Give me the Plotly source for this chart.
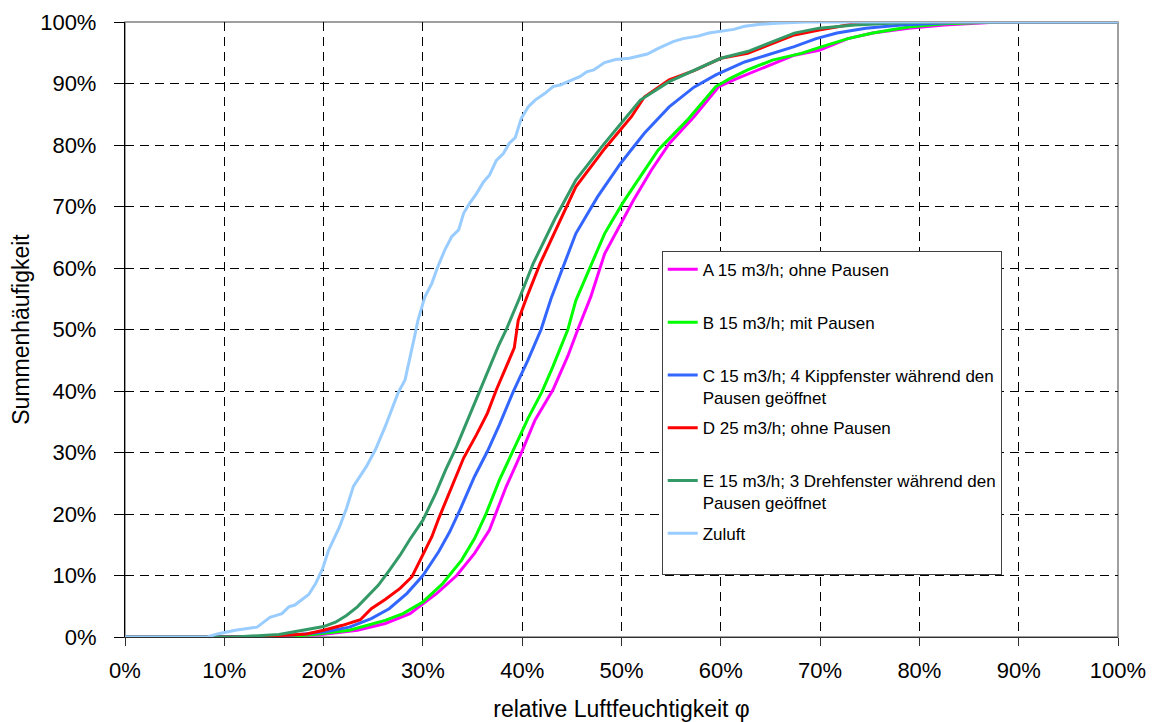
import plotly.graph_objects as go

# ---- data (percent values) ----
a_x = [0, 14, 17, 19.8, 23.4, 26.2, 28.7, 30, 31.4, 33.4, 35.2, 36.7, 37.4, 38.4, 39.9, 41.3, 43.1, 44.6, 45.6,
       46.9, 48.3, 49.8, 51.2, 53, 54.8, 57.3, 59.8, 61.6, 64.5, 67.4, 69.9, 72.8, 75.3, 78.9, 82.5, 85.4, 88, 100]
a_y = [0, 0, 0.1, 0.4, 1.1, 2.2, 3.8, 5.4, 7.1, 10, 13.6, 17.4, 20.4, 24.5, 29.9, 35.3, 40.2, 45.7, 50,
       55.3, 62.3, 66.7, 71, 75.9, 80.2, 84.6, 89.5, 90.8, 92.7, 94.6, 95.4, 97.3, 98.2, 99, 99.5, 99.8, 100, 100]

b_x = [0, 14.4, 17, 19, 22.6, 26.2, 28, 30, 32, 33.9, 35.2, 36.3, 37.7, 39.2, 40.6, 42, 43.1, 44.6, 45.4,
       48.3, 50.1, 51.2, 53.7, 56.6, 59.5, 60.9, 62.7, 65.2, 68.1, 70.2, 72.8, 75.3, 78.9, 82.5, 86.1, 88, 100]
b_y = [0, 0, 0.1, 0.4, 1.1, 2.7, 3.8, 5.7, 8.7, 12.5, 16, 19.8, 25.5, 30.7, 35.6, 39.9, 44, 50, 54.7,
       65.6, 70.5, 73.2, 79.2, 84, 89.5, 90.8, 92.2, 93.8, 94.9, 96, 97.3, 98.2, 99.2, 99.7, 99.9, 100, 100]

c_x = [0, 12.9, 15, 17.6, 20, 22.6, 24.8, 26.6, 28.4, 30, 31.6, 32.7, 33.8, 35.2, 36.5, 37.7, 39.1, 40.6, 41.9,
       42.9, 44.1, 45.4, 47.6, 49.9, 52.3, 54.8, 57.3, 59.5, 62.4, 64.5, 67.4, 69.6, 71.7, 74.6, 78.2, 81.8, 85, 100]
c_y = [0, 0, 0.1, 0.4, 0.8, 1.6, 3, 4.6, 7.1, 10, 13.9, 17.1, 20.9, 26.1, 30.2, 34.5, 39.9, 45.1, 50,
       55, 60.2, 65.6, 71.6, 77, 81.9, 86.2, 89.4, 91.4, 93.5, 94.6, 96, 97.3, 98.2, 99, 99.5, 99.8, 100, 100]

d_x = [0, 12.6, 16.2, 18.3, 20, 21.9, 23.7, 24.8, 26.2, 27.7, 28.9, 30, 30.9, 31.6, 32.9, 34.1, 35.4, 36.5, 37.4,
       38.4, 39.2, 39.6, 40.4, 41.8, 43.1, 45.4, 48.3, 51, 52.3, 54.8, 57.3, 60, 62.7, 64.9, 67.4, 69.9, 73.5, 75.5, 100]
d_y = [0, 0, 0.3, 0.5, 1.1, 1.9, 2.8, 4.6, 6.1, 7.9, 9.8, 13.3, 16.3, 19.3, 24.5, 29.1, 32.9, 36.4, 40.2,
       44, 47, 51.5, 55, 60.7, 65.3, 73.2, 79.4, 84.6, 87.8, 90.6, 92.1, 94.1, 94.9, 96.3, 97.9, 98.7, 99.7, 100, 100]

e_x = [0, 11, 15.5, 18, 20, 21.2, 22.3, 23.4, 24.4, 25.5, 26.6, 27.7, 28.7, 30, 31.3, 32.3, 33.4, 34.5, 35.6,
       36.7, 37.6, 38.4, 39.7, 41.1, 43.3, 45.4, 48, 49.8, 51.9, 54.8, 57.3, 60, 62.7, 65.2, 67.4, 69.9, 73.5,
       77.1, 80.7, 82, 100]
e_y = [0, 0, 0.4, 1.1, 1.7, 2.4, 3.5, 4.9, 6.5, 8.4, 10.8, 13.3, 15.9, 19, 23.4, 27.2, 31, 35.3, 39.7,
       43.8, 47.3, 50, 55, 60.7, 68, 74.3, 79.7, 83.2, 87.3, 90.3, 92.1, 94.1, 95.2, 96.8, 98.2, 99, 99.5,
       99.8, 99.9, 100, 100]

z_x = [0, 8.3, 9.3, 11.1, 13.3, 14.6, 15.8, 16.5, 17.1, 18.5, 19.2, 19.9, 20.5, 21.6, 22.3, 23, 24.3, 25.2,
       26.2, 26.9, 27.5, 28.2, 28.6, 29.1, 29.5, 30.2, 30.9, 31.5, 32.2, 32.9, 33.6, 34.1, 34.7, 35.4, 36.1,
       36.7, 37.4, 38.1, 38.7, 39.3, 39.9, 40.6, 41.3, 42.3, 43.1, 43.9, 44.9, 45.8, 46.5, 47.2, 48.3, 49.4,
       50.8, 52.6, 53.7, 55.2, 56.2, 57.7, 58.8, 60.2, 61.3, 62.4, 63.8, 65.6, 67, 68.5, 100]
z_y = [0, 0, 0.5, 1.1, 1.6, 3.2, 3.8, 4.9, 5.2, 6.9, 8.7, 11.1, 14.1, 17.9, 20.9, 24.5, 27.7, 30.4,
       34.2, 37, 39.7, 41.8, 44.6, 48.4, 51.5, 55.3, 57.5, 60.2, 62.9, 65.1, 66.2, 68.9, 70.5, 72.1, 74,
       75.1, 77.5, 78.6, 80.3, 81.2, 84.3, 86.2, 87.3, 88.4, 89.5, 89.8, 90.5, 91.1, 91.9, 92.2, 93.4, 93.9,
       94.1, 94.8, 95.7, 96.8, 97.3, 97.7, 98.2, 98.6, 98.8, 99.3, 99.6, 99.8, 99.9, 100, 100]

series_names = [
    "A 15 m3/h; ohne Pausen<br> ",
    "B 15 m3/h; mit Pausen<br> ",
    "C 15 m3/h; 4 Kippfenster während den<br>Pausen geöffnet",
    "D 25 m3/h; ohne Pausen<br> ",
    "E 15 m3/h; 3 Drehfenster während den<br>Pausen geöffnet",
    "Zuluft<br> ",
]
series_colors = ["#FF00FF", "#00FF00", "#3366FF", "#FF0000", "#339966", "#99CCFF"]
series_x = [a_x, b_x, c_x, d_x, e_x, z_x]
series_y = [a_y, b_y, c_y, d_y, e_y, z_y]

tick_vals = list(range(0, 101, 10))
tick_text = [f"{v}%" for v in tick_vals]

FONT = "Liberation Sans, Arial, sans-serif"

fig = go.Figure()
for i, (name, col, xs, ys) in enumerate(zip(series_names, series_colors, series_x, series_y)):
    fig.add_trace(go.Scatter(
        x=xs, y=ys, mode="lines", name=name, legendgroup=f"g{i}",
        line=dict(color=col, width=3),
    ))

# the page body adds an 8px offset, so the figure is sized to fit the window
fig.update_layout(
    width=1148, height=714,
    margin=dict(l=117, r=38, t=14, b=85),
    paper_bgcolor="white", plot_bgcolor="white",
    font=dict(family=FONT, color="black", size=22),
    showlegend=True,
    legend=dict(
        x=0.5405, y=0.628, xanchor="left", yanchor="top",
        bgcolor="white", bordercolor="#404040", borderwidth=1,
        font=dict(family=FONT, size=17, color="black"),
        tracegroupgap=5.6, valign="top",
    ),
    shapes=[dict(type="rect", xref="paper", yref="paper", x0=0, y0=0, x1=1, y1=1,
                 line=dict(color="#808080", width=1.5), layer="below")],
)

fig.update_xaxes(
    range=[0, 100], tickmode="array", tickvals=tick_vals, ticktext=tick_text,
    showgrid=True, gridcolor="black", gridwidth=1, griddash="9px,6px",
    showline=True, linecolor="#303030", linewidth=1.3,
    ticks="outside", ticklen=8, tickcolor="#303030", tickwidth=1,
    zeroline=False, tickfont=dict(size=22), ticklabelstandoff=5,
    title=dict(text="relative Luftfeuchtigkeit φ", font=dict(size=23), standoff=20),
    automargin=False,
)
fig.update_yaxes(
    range=[0, 100], tickmode="array", tickvals=tick_vals, ticktext=tick_text,
    showgrid=True, gridcolor="black", gridwidth=1, griddash="9px,6px",
    showline=True, linecolor="black", linewidth=1.3,
    ticks="outside", ticklen=10, tickcolor="black", tickwidth=1,
    zeroline=False, tickfont=dict(size=22), ticklabelstandoff=13,
    title=dict(text="Summenhäufigkeit", font=dict(size=23), standoff=6),
    automargin=False,
)

fig.write_html("out.html")
